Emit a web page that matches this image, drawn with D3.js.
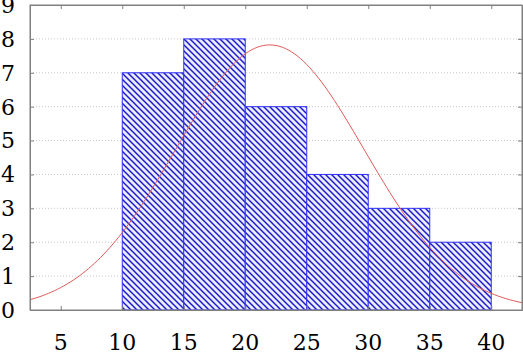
<!DOCTYPE html>
<html>
<head>
<meta charset="utf-8">
<script src="https://cdn.jsdelivr.net/npm/d3@7"></script>
<style>
  body { margin: 0; background: #fff; }
  svg { display: block; }
</style>
</head>
<body>
<div id="chart"></div>
<script>
// histogram bins (lower edge) and counts
var binStarts = [10, 15, 20, 25, 30, 35];
var binWidth = 5;
var counts = [7, 8, 6, 4, 3, 2];
// fitted normal curve parameters (peak near 22)
var fitMean = 22;
var fitSd = 7.65;
var xTicks = [5, 10, 15, 20, 25, 30, 35, 40];
var yTicks = [0, 1, 2, 3, 4, 5, 6, 7, 8, 9];

var W = 523, H = 353;
var margin = {left: 30, right: 1, top: 5, bottom: 43};
var width = W - margin.left - margin.right;
var height = H - margin.top - margin.bottom;
var serif = "'DejaVu Serif', serif";

var svg = d3.select("#chart").append("svg")
    .attr("width", W)
    .attr("height", H);

// hatch pattern for the bars
var defs = svg.append("defs");
var pat = defs.append("pattern")
    .attr("id", "hatch")
    .attr("patternUnits", "userSpaceOnUse")
    .attr("width", 6)
    .attr("height", 6);
pat.append("rect").attr("width", 6).attr("height", 6).attr("fill", "#ececff");
pat.append("path")
    .attr("d", "M-1,-1 L7,7 M-1,5 L1,7 M5,-1 L7,1")
    .attr("stroke", "#1c1cc8")
    .attr("stroke-width", 1.5);

var chart = svg.append("g")
    .attr("transform", "translate(" + margin.left + "," + margin.top + ")");

var x = d3.scaleLinear().domain([2.5, 42.5]).range([0, width]);
var y = d3.scaleLinear().domain([0, 9]).range([height, 0]);

// dotted horizontal grid
chart.append("g")
    .selectAll("line")
    .data(yTicks.filter(function(d) { return d > 0 && d < 9; }))
    .enter().append("line")
    .attr("x1", 0).attr("x2", width)
    .attr("y1", function(d) { return y(d); })
    .attr("y2", function(d) { return y(d); })
    .attr("stroke", "#c8c8c8")
    .attr("stroke-width", 1)
    .attr("stroke-dasharray", "1,2");

// bars
chart.append("g")
    .selectAll("rect")
    .data(binStarts)
    .enter().append("rect")
    .attr("x", function(d) { return x(d); })
    .attr("width", function(d) { return x(d + binWidth) - x(d); })
    .attr("y", function(d, i) { return y(counts[i]); })
    .attr("height", function(d, i) { return height - y(counts[i]); })
    .attr("fill", "url(#hatch)")
    .attr("stroke", "#3030ff")
    .attr("stroke-width", 1);

// normal curve scaled to the histogram area
var n = d3.sum(counts);
var curveX = d3.range(2.5, 42.51, 0.25);
var line = d3.line()
    .x(function(d) { return x(d); })
    .y(function(d) {
        var z = (d - fitMean) / fitSd;
        return y(n * binWidth * Math.exp(-0.5 * z * z) / (fitSd * Math.sqrt(2 * Math.PI)));
    });
chart.append("path")
    .datum(curveX)
    .attr("d", line)
    .attr("fill", "none")
    .attr("stroke", "#e05a5a")
    .attr("stroke-width", 1);

// frame with inward ticks on all sides
var tickColor = "#808080";
chart.append("g")
    .attr("transform", "translate(0," + height + ")")
    .call(d3.axisTop(x).tickValues(xTicks).tickSize(4).tickFormat("").tickSizeOuter(0));
chart.append("g")
    .call(d3.axisBottom(x).tickValues(xTicks).tickSize(4).tickFormat("").tickSizeOuter(0));
chart.append("g")
    .call(d3.axisRight(y).tickValues(yTicks).tickSize(4).tickFormat("").tickSizeOuter(0));
chart.append("g")
    .attr("transform", "translate(" + width + ",0)")
    .call(d3.axisLeft(y).tickValues(yTicks).tickSize(4).tickFormat("").tickSizeOuter(0));
chart.selectAll(".domain, .tick line").attr("stroke", tickColor);

chart.append("rect")
    .attr("x", 0).attr("y", 0)
    .attr("width", width).attr("height", height)
    .attr("fill", "none")
    .attr("stroke", tickColor)
    .attr("stroke-width", 1);

// labels
chart.append("g")
    .selectAll("text")
    .data(yTicks)
    .enter().append("text")
    .attr("x", -15)
    .attr("y", function(d) { return y(d); })
    .attr("dy", "0.36em")
    .attr("text-anchor", "end")
    .style("font-family", serif)
    .style("font-size", "22px")
    .style("fill", "#000")
    .text(function(d) { return d; });

chart.append("g")
    .selectAll("text")
    .data(xTicks)
    .enter().append("text")
    .attr("x", function(d) { return x(d); })
    .attr("y", height + 40)
    .attr("text-anchor", "middle")
    .style("font-family", serif)
    .style("font-size", "22px")
    .style("fill", "#000")
    .text(function(d) { return d; });
</script>
</body>
</html>
